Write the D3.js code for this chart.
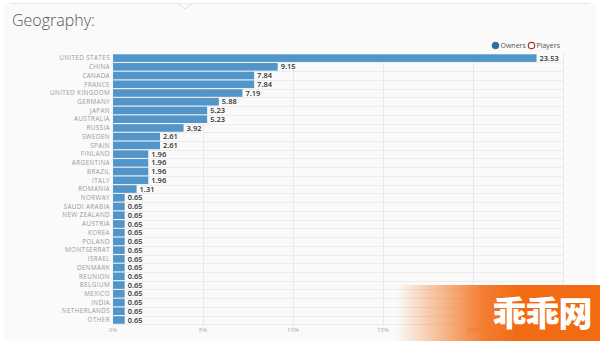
<!DOCTYPE html>
<html><head><meta charset="utf-8">
<script src="https://cdn.jsdelivr.net/npm/d3@7"></script>
<style>
html,body{margin:0;padding:0;background:#fff;}
svg{display:block;}
</style></head>
<body>
<svg id="c" width="600" height="341"></svg>
<script>
const categories = ["UNITED STATES","CHINA","CANADA","FRANCE","UNITED KINGDOM","GERMANY","JAPAN","AUSTRALIA","RUSSIA","SWEDEN","SPAIN","FINLAND","ARGENTINA","BRAZIL","ITALY","ROMANIA","NORWAY","SAUDI ARABIA","NEW ZEALAND","AUSTRIA","KOREA","POLAND","MONTSERRAT","ISRAEL","DENMARK","REUNION","BELGIUM","MEXICO","INDIA","NETHERLANDS","OTHER"];
const owners = [23.53,9.15,7.84,7.84,7.19,5.88,5.23,5.23,3.92,2.61,2.61,1.96,1.96,1.96,1.96,1.31,0.65,0.65,0.65,0.65,0.65,0.65,0.65,0.65,0.65,0.65,0.65,0.65,0.65,0.65,0.65];
const gridTicks = [0,5,10,15,20,25];
const xTickLabels = [0,5,10,15,20];
const legendItems = ["Owners","Players"];
const title = "Geography:";

const svg = d3.select("#c");
// card
svg.append("rect").attr("x",4).attr("y",3).attr("width",592).attr("height",338).attr("fill","#fafafa");
svg.append("line").attr("x1",10).attr("x2",590).attr("y1",3.5).attr("y2",3.5).attr("stroke","#e6e6e6");
svg.append("path").attr("d","M178,3.5 L185,9 L192,3.5").attr("fill","#fafafa").attr("stroke","#e0e0e0");

svg.append("text").attr("x",12).attr("y",26).text(title)
  .attr("font-family","Open Sans, sans-serif").attr("font-weight",300).attr("font-size",16).attr("fill","#555");

const x = d3.scaleLinear().domain([0,25]).range([113,563]);
const y = d3.scaleBand().domain(categories).range([53.7,324.4]).paddingInner(0.13).paddingOuter(0.07);

const g = svg.append("g");
// horizontal grid lines
g.selectAll("line.h").data(categories).join("line")
  .attr("x1",113).attr("x2",563)
  .attr("y1",d=>Math.round(y(d)+y.bandwidth()+y.step()*y.paddingInner()/2)+0.5)
  .attr("y2",d=>Math.round(y(d)+y.bandwidth()+y.step()*y.paddingInner()/2)+0.5)
  .attr("stroke","#ececec");
// vertical grid
g.selectAll("line.v").data(gridTicks).join("line")
  .attr("x1",d=>x(d)+0.5).attr("x2",d=>x(d)+0.5).attr("y1",53).attr("y2",326)
  .attr("stroke","#e8e8e8");

// bars
g.selectAll("rect.bar").data(categories).join("rect")
  .attr("x",x(0)).attr("y",d=>y(d)).attr("height",y.bandwidth())
  .attr("width",(d,i)=>x(owners[i])-x(0)).attr("fill","#5195c9");

// values
g.selectAll("text.val").data(categories).join("text")
  .attr("x",(d,i)=>x(owners[i])+3).attr("y",d=>y(d)+y.bandwidth()/2).attr("dy","0.35em")
  .text((d,i)=>owners[i].toFixed(2))
  .attr("font-family","Open Sans, sans-serif").attr("font-weight",600).attr("font-size",7.5).attr("fill","#333");

// category labels
g.selectAll("text.cat").data(categories).join("text")
  .attr("x",110).attr("y",d=>y(d)+y.bandwidth()/2).attr("dy","0.35em")
  .attr("text-anchor","end").text(d=>d)
  .attr("font-family","Open Sans, sans-serif").attr("font-size",6.3).attr("letter-spacing",0.4).attr("fill","#999");

// x axis labels
g.selectAll("text.xt").data(xTickLabels).join("text")
  .attr("x",d=>x(d)).attr("y",332).attr("text-anchor","middle").text(d=>d+"%")
  .attr("font-family","Open Sans, sans-serif").attr("font-size",6).attr("fill","#aaa");

// legend
const lg = svg.append("g");
lg.append("circle").attr("cx",495.5).attr("cy",45.5).attr("r",3.3).attr("fill","#2f6f9e").attr("stroke","#2f6f9e");
lg.append("text").attr("x",500.5).attr("y",45.5).attr("dy","0.35em").text(legendItems[0])
  .attr("font-family","Open Sans, sans-serif").attr("font-size",7).attr("fill","#555");
lg.append("circle").attr("cx",531.5).attr("cy",45.5).attr("r",3.2).attr("fill","#fff").attr("stroke","#a33a3a").attr("stroke-width",1.2);
lg.append("text").attr("x",536.5).attr("y",45.5).attr("dy","0.35em").text(legendItems[1])
  .attr("font-family","Open Sans, sans-serif").attr("font-size",7).attr("fill","#555");

// watermark overlay
const defs = svg.append("defs");
const gr = defs.append("linearGradient").attr("id","wm").attr("x1","0").attr("x2","1").attr("y1","0").attr("y2","0");
gr.append("stop").attr("offset","0").attr("stop-color","#f26a12").attr("stop-opacity",0);
gr.append("stop").attr("offset","0.42").attr("stop-color","#f26a12").attr("stop-opacity",0.85);
gr.append("stop").attr("offset","0.6").attr("stop-color","#f26a12").attr("stop-opacity",1);
svg.append("rect").attr("x",396).attr("y",285).attr("width",204).attr("height",56).attr("fill","url(#wm)");
svg.append("text").attr("x",542).attr("y",326).attr("text-anchor","middle").text("乖乖网")
  .attr("font-family","Noto Sans CJK SC, sans-serif").attr("font-weight",900).attr("font-size",34).attr("fill","#fff").attr("letter-spacing",-1);
</script>
</body></html>
